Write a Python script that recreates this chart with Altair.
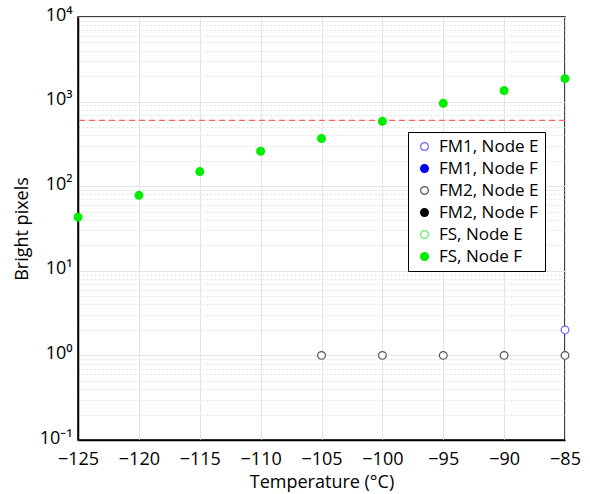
import altair as alt
import pandas as pd

series_names = ["FM1, Node E", "FM1, Node F", "FM2, Node E", "FM2, Node F", "FS, Node E", "FS, Node F"]
fill_colors = ["white", "#0000ee", "white", "#000000", "white", "#00ee00"]
stroke_colors = ["#6a6aff", "#0000ee", "#555555", "#000000", "#66ee66", "#00ee00"]

fs_f_temp = [-125, -120, -115, -110, -105, -100, -95, -90, -85]
fs_f_vals = [43, 78, 149, 259, 366, 585, 955, 1350, 1870]
fm2_e_temp = [-105, -100, -95, -90, -85]
fm2_e_vals = [1, 1, 1, 1, 1]
fm1_e_temp = [-85]
fm1_e_vals = [2]
threshold = 600

y_major = [0.1, 1, 10, 100, 1000, 10000]
y_ticks = [m * k for m in y_major[:-1] for k in range(1, 10)] + [10000]
x_ticks = [-125, -120, -115, -110, -105, -100, -95, -90, -85]

rows = []
for t, v in zip(fm1_e_temp, fm1_e_vals):
    rows.append({"temp": t, "val": v, "series": "FM1, Node E"})
for t, v in zip(fm2_e_temp, fm2_e_vals):
    rows.append({"temp": t, "val": v, "series": "FM2, Node E"})
for t, v in zip(fs_f_temp, fs_f_vals):
    rows.append({"temp": t, "val": v, "series": "FS, Node F"})
df = pd.DataFrame(rows)

FONT = "Open Sans"
major_test = "abs(log(datum.value)/LN10 - round(log(datum.value)/LN10)) < 0.000001"

xscale = alt.Scale(domain=[-125, -85], nice=False, zero=False)
yscale = alt.Scale(type="log", domain=[0.1, 10000], nice=False)

xaxis = alt.Axis(
    title="Temperature (°C)", values=x_ticks,
    labelExpr="replace(datum.label, '-', '−')",
    grid=True, gridColor="#e3e3e3", ticks=False, labelPadding=10,
    labelFlush=False, labelOverlap=False, labelBound=False,
    labelFontSize=18, titleFontSize=18, labelFont=FONT, titleFont=FONT,
    titleFontWeight="normal",
    labelColor="black", titleColor="black", domainColor="black", domainWidth=1.5,
    titlePadding=5,
)
yaxis = alt.Axis(
    title="Bright pixels", values=y_ticks,
    labelExpr="(" + major_test + ") ? '10' + ['⁻¹','⁰','¹','²','³','⁴'][round(log(datum.value)/LN10)+1] : ''",
    grid=True,
    gridColor="#e3e3e3",
    gridDash={"condition": {"test": major_test, "value": []}, "value": [2, 2]},
    ticks=False, labelPadding=6, labelOverlap=False, labelFlush=False,
    labelOffset=-2,
    labelFontSize=18, titleFontSize=18, labelFont=FONT, titleFont=FONT,
    titleFontWeight="normal",
    labelColor="black", titleColor="black", domainColor="black", domainWidth=1.5,
    titlePadding=8,
)

points = alt.Chart(df).mark_point(filled=False, size=60, strokeWidth=1.2, opacity=1).encode(
    x=alt.X("temp:Q", scale=xscale, axis=xaxis),
    y=alt.Y("val:Q", scale=yscale, axis=yaxis),
    fill=alt.Fill("series:N", scale=alt.Scale(domain=series_names, range=fill_colors),
                  legend=alt.Legend(title=None)),
    stroke=alt.Stroke("series:N", scale=alt.Scale(domain=series_names, range=stroke_colors),
                      legend=alt.Legend(title=None)),
)

rule = alt.Chart(pd.DataFrame({"thr": [threshold]})).mark_rule(
    color="#ff6060", strokeDash=[6, 4], strokeWidth=1.2
).encode(y=alt.Y("thr:Q", scale=yscale))

chart = alt.layer(rule, points).properties(
    width=487, height=423,
    padding={"left": 78, "top": 17, "right": 25, "bottom": 54},
    autosize=alt.AutoSizeParams(type="none"),
).configure_view(
    stroke="black", strokeWidth=1.5
).configure_legend(
    orient="none", legendX=330, legendY=115,
    strokeColor="black", fillColor="white", padding=6,
    labelFont=FONT, labelFontSize=17, labelColor="black",
    symbolSize=60, symbolStrokeWidth=1.2, rowPadding=4, labelOffset=6,
    labelLimit=200, symbolOffset=2,
    cornerRadius=0,
)

chart.save("out.html", embed_options={"renderer": "svg", "actions": False})
